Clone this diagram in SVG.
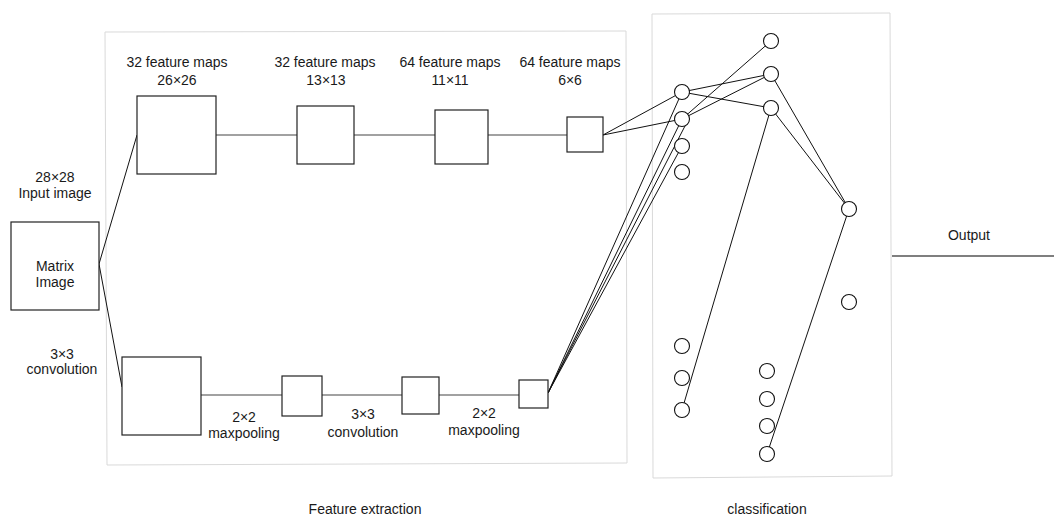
<svg xmlns="http://www.w3.org/2000/svg" width="1054" height="516" viewBox="0 0 1054 516">
<style>
.panel{fill:#fff;stroke:#d9d9d9;stroke-width:1}
.box{fill:#fff;stroke:#222;stroke-width:1.2}
.neuron{fill:#fff;stroke:#111;stroke-width:1.1}
.link{stroke:#111;stroke-width:1;fill:none}
.chain{stroke:#444;stroke-width:1.2;fill:none}
text{font-family:"Liberation Sans",Arial,Helvetica,sans-serif;font-size:14px;fill:#1a1a1a;text-anchor:middle}
</style>
<rect width="1054" height="516" fill="#fff"/>
<g id="feature-extraction-panel">
<path class="panel" d="M105 32 L626 31 L627 463 L107 465 Z"/>
<text x="365" y="514">Feature extraction</text>
</g>
<g id="classification-panel">
<path class="panel" d="M652 14 L890 13 L892 476 L653 478 Z"/>
<text x="767" y="514">classification</text>
</g>
<g id="connectors">
<line class="link" x1="99" y1="264" x2="137" y2="135"/>
<line class="link" x1="99" y1="264" x2="122" y2="387"/>
<line class="chain" x1="216" y1="135" x2="297" y2="135"/>
<line class="chain" x1="354" y1="135" x2="435" y2="135"/>
<line class="chain" x1="488" y1="135" x2="567" y2="135"/>
<line class="chain" x1="201" y1="395" x2="282" y2="395"/>
<line class="chain" x1="322" y1="395" x2="402" y2="395"/>
<line class="chain" x1="439" y1="395" x2="519" y2="395"/>
<line class="link" x1="603" y1="135" x2="682" y2="92"/>
<line class="link" x1="603" y1="135" x2="682" y2="119"/>
<line class="link" x1="548" y1="393" x2="682" y2="92"/>
<line class="link" x1="548" y1="393" x2="682" y2="119"/>
<line class="link" x1="548" y1="393" x2="686" y2="124"/>
<line class="link" x1="548" y1="393" x2="682" y2="146"/>
<line class="link" x1="682" y1="92" x2="771" y2="74"/>
<line class="link" x1="682" y1="92" x2="771" y2="108"/>
<line class="link" x1="682" y1="119" x2="771" y2="41"/>
<line class="link" x1="682" y1="119" x2="771" y2="74"/>
<line class="link" x1="682" y1="410" x2="771" y2="108"/>
<line class="link" x1="771" y1="74" x2="849" y2="209"/>
<line class="link" x1="771" y1="108" x2="849" y2="209"/>
<line class="link" x1="767" y1="454" x2="849" y2="209"/>
<line x1="892" y1="256" x2="1054" y2="256" stroke="#555" stroke-width="1.5"/>
</g>
<g id="input-image">
<rect class="box" x="11" y="222" width="88" height="88"/>
<text x="55" y="271">Matrix</text>
<text x="55" y="287">Image</text>
<text x="55" y="182">28×28</text>
<text x="55" y="198">Input image</text>
</g>
<g id="conv-label">
<text x="62" y="359">3×3</text>
<text x="62" y="374">convolution</text>
</g>
<g id="top-map-1">
<rect class="box" x="137" y="96" width="79" height="78"/>
<text x="177" y="67">32 feature maps</text>
<text x="177" y="85">26×26</text>
</g>
<g id="top-map-2">
<rect class="box" x="297" y="106" width="57" height="58"/>
<text x="325" y="67">32 feature maps</text>
<text x="326" y="85">13×13</text>
</g>
<g id="top-map-3">
<rect class="box" x="435" y="110" width="53" height="54"/>
<text x="450" y="67">64 feature maps</text>
<text x="450" y="85">11×11</text>
</g>
<g id="top-map-4">
<rect class="box" x="567" y="117" width="36" height="35"/>
<text x="570" y="67">64 feature maps</text>
<text x="570" y="85">6×6</text>
</g>
<g id="bottom-map-1">
<rect class="box" x="122" y="357" width="79" height="78"/>
</g>
<g id="bottom-map-2">
<rect class="box" x="282" y="376" width="40" height="40"/>
<text x="244" y="422">2×2</text>
<text x="244" y="438">maxpooling</text>
</g>
<g id="bottom-map-3">
<rect class="box" x="402" y="377" width="37" height="37"/>
<text x="363" y="419">3×3</text>
<text x="363" y="437">convolution</text>
</g>
<g id="bottom-map-4">
<rect class="box" x="519" y="380" width="29" height="28"/>
<text x="484" y="418">2×2</text>
<text x="484" y="435">maxpooling</text>
</g>
<g id="layer-1">
<circle class="neuron" cx="682" cy="92" r="7.5"/>
<circle class="neuron" cx="682" cy="119" r="7.5"/>
<circle class="neuron" cx="682" cy="146" r="7.5"/>
<circle class="neuron" cx="682" cy="172" r="7.5"/>
<circle class="neuron" cx="682" cy="346" r="7.5"/>
<circle class="neuron" cx="682" cy="378" r="7.5"/>
<circle class="neuron" cx="682" cy="410" r="7.5"/>
</g>
<g id="layer-2">
<circle class="neuron" cx="771" cy="41" r="7.5"/>
<circle class="neuron" cx="771" cy="74" r="7.5"/>
<circle class="neuron" cx="771" cy="108" r="7.5"/>
<circle class="neuron" cx="767" cy="371" r="7.5"/>
<circle class="neuron" cx="767" cy="399" r="7.5"/>
<circle class="neuron" cx="767" cy="426" r="7.5"/>
<circle class="neuron" cx="767" cy="454" r="7.5"/>
</g>
<g id="layer-3">
<circle class="neuron" cx="849" cy="209" r="7.5"/>
<circle class="neuron" cx="849" cy="302" r="7.5"/>
</g>
<g id="output">
<text x="969" y="240">Output</text>
</g>
</svg>
